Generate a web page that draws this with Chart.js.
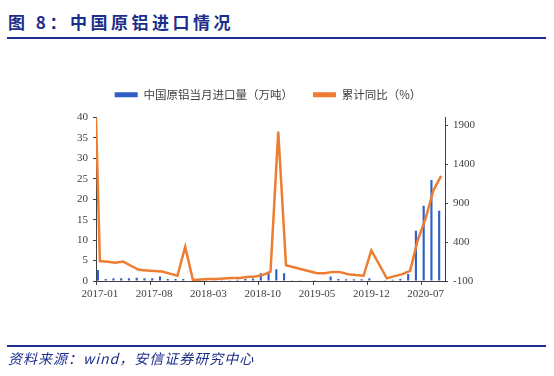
<!DOCTYPE html>
<html>
<head>
<meta charset="utf-8">
<script src="https://cdn.jsdelivr.net/npm/chart.js@4/dist/chart.umd.min.js"></script>
<style>
  body { margin: 0; background: #fff; width: 554px; height: 376px; position: relative; overflow: hidden; }
  .titulo { position: absolute; left: 8px; top: 9px; font: bold 17px "Noto Sans CJK SC", sans-serif; color: #1c2e8c; letter-spacing: 3.5px; white-space: nowrap; }
  .linea { position: absolute; left: 7px; width: 539px; height: 2px; background: #1c2e8c; }
  .fuente { position: absolute; left: 8px; top: 348px; font: italic 14px "Noto Sans CJK SC", sans-serif; color: #1c2e8c; letter-spacing: 1px; white-space: nowrap; }
  #myChart { position: absolute; left: 0; top: 0; }
</style>
</head>
<body>
<div class="titulo">图 8：中国原铝进口情况</div>
<div class="linea" style="top:37px"></div>
<canvas id="myChart" width="554" height="376"></canvas>
<div class="linea" style="top:345px"></div>
<div class="fuente">资料来源：wind，安信证券研究中心</div>
<script>
// meses (2017-01 a 2020-09)
const meses = [
  "2017-01","2017-02","2017-03","2017-04","2017-05","2017-06","2017-07","2017-08","2017-09","2017-10","2017-11","2017-12",
  "2018-01","2018-02","2018-03","2018-04","2018-05","2018-06","2018-07","2018-08","2018-09","2018-10","2018-11","2018-12",
  "2019-01","2019-02","2019-03","2019-04","2019-05","2019-06","2019-07","2019-08","2019-09","2019-10","2019-11","2019-12",
  "2020-01","2020-02","2020-03","2020-04","2020-05","2020-06","2020-07","2020-08","2020-09"
];

// 中国原铝当月进口量（万吨）
const importacion = [
  2.7, 0.5, 0.7, 0.7, 0.7, 0.8, 0.7, 0.7, 1.1, 0.5, 0.5, 0.5,
  0.1, 0.1, 0.2, 0.2, 0.2, 0.2, 0.3, 0.5, 0.6, 1.9, 2.1, 2.9,
  1.9, 0.05, 0.05, 0.1, 0.2, 0.1, 1.1, 0.5, 0.4, 0.4, 0.4, 0.7,
  0, 0.2, 0.3, 0.5, 1.7, 12.3, 18.4, 24.7, 17.2
];

// 累计同比（%）
const acumulado = [
  156, 146, 136, 149, 96, 43, 35, 29, 23, -5, -33, 338,
  -87, -81, -75, -75, -68, -62, -62, -50, -43, -25, 20, 1820,
  102, 77, 52, 26, 1, 1, 17, 14, -12, -24, -33, 292,
  115, -66, -37, -12, 30, 430, 705, 1062, 1251
];
// el primer tramo de la línea sale del borde del eje
const acumuladoInicio = 2000;

const ticksIzq = [0, 5, 10, 15, 20, 25, 30, 35, 40];
const ticksDer = [-100, 400, 900, 1400, 1900];

const colorEje = "#404040";
const fuenteEje = { family: "Liberation Serif", size: 11 };

// datos de la línea en un eje lineal oculto para poder arrancar en el borde
const puntosLinea = [{ x: -0.5, y: acumuladoInicio }].concat(
  acumulado.map((v, i) => ({ x: i, y: v }))
);

const data = {
  labels: meses,
  datasets: [
    {
      type: "bar",
      label: "中国原铝当月进口量（万吨）",
      data: importacion,
      backgroundColor: "#2e5ec6",
      borderWidth: 0,
      barPercentage: 0.55,
      categoryPercentage: 1,
      yAxisID: "y",
      xAxisID: "x",
      order: 1,
    },
    {
      type: "line",
      label: "累计同比（%）",
      data: puntosLinea,
      borderColor: "#ed7d31",
      backgroundColor: "#ed7d31",
      borderWidth: 2.5,
      pointRadius: 0,
      tension: 0,
      yAxisID: "y1",
      xAxisID: "x2",
      order: 0,
    },
  ],
};

const config = {
  data,
  options: {
    responsive: false,
    animation: false,
    layout: { padding: { top: 69, left: 0, right: 18, bottom: 65 } },
    plugins: {
      tooltip: { enabled: false },
      legend: {
        position: "top",
        labels: {
          boxWidth: 23,
          boxHeight: 5,
          padding: 20,
          color: "#404040",
          font: { family: "Noto Sans CJK SC", size: 11.5 },
          sort: (a, b) => a.datasetIndex - b.datasetIndex,
          generateLabels: (chart) => {
            const items = Chart.defaults.plugins.legend.labels.generateLabels(chart);
            items.forEach((it) => { it.lineWidth = 0; });
            return items;
          },
        },
      },
      // espacio vacío entre la leyenda y el área del gráfico
      subtitle: {
        display: true,
        text: "",
        position: "top",
        weight: 500,
        font: { size: 1, lineHeight: 1 },
        padding: { top: 0, bottom: 6 },
      },
    },
    scales: {
      x: {
        type: "category",
        offset: true,
        grid: {
          offset: true,
          drawOnChartArea: false,
          tickLength: 4,
          color: (ctx) => (ctx.index % 7 === 0 ? colorEje : "transparent"),
        },
        border: { color: colorEje, width: 1 },
        ticks: {
          autoSkip: false,
          maxRotation: 0,
          padding: 3,
          color: colorEje,
          font: fuenteEje,
          callback: function (val, index) {
            return index % 7 === 0 ? this.getLabelForValue(val) : "";
          },
        },
        afterFit: (scale) => { scale.height = 30; },
      },
      x2: {
        type: "linear",
        display: false,
        min: -0.5,
        max: meses.length - 0.5,
      },
      y: {
        position: "left",
        min: 0,
        max: 40,
        afterBuildTicks: (scale) => { scale.ticks = ticksIzq.map((v) => ({ value: v })); },
        grid: { drawOnChartArea: false, tickLength: 3, color: colorEje },
        border: { color: colorEje, width: 1 },
        ticks: { color: colorEje, font: fuenteEje, padding: 5, callback: (v) => String(v) },
        afterFit: (scale) => { scale.width = 96; },
      },
      y1: {
        position: "right",
        min: -100,
        max: 2000,
        afterBuildTicks: (scale) => { scale.ticks = ticksDer.map((v) => ({ value: v })); },
        grid: { drawOnChartArea: false, tickLength: 3, color: colorEje },
        border: { color: colorEje, width: 1 },
        ticks: { color: colorEje, font: fuenteEje, padding: 5, callback: (v) => String(v) },
        afterFit: (scale) => { scale.width = 91; },
      },
    },
  },
};

const chartInstance = new Chart(document.getElementById("myChart"), config);
</script>
</body>
</html>
